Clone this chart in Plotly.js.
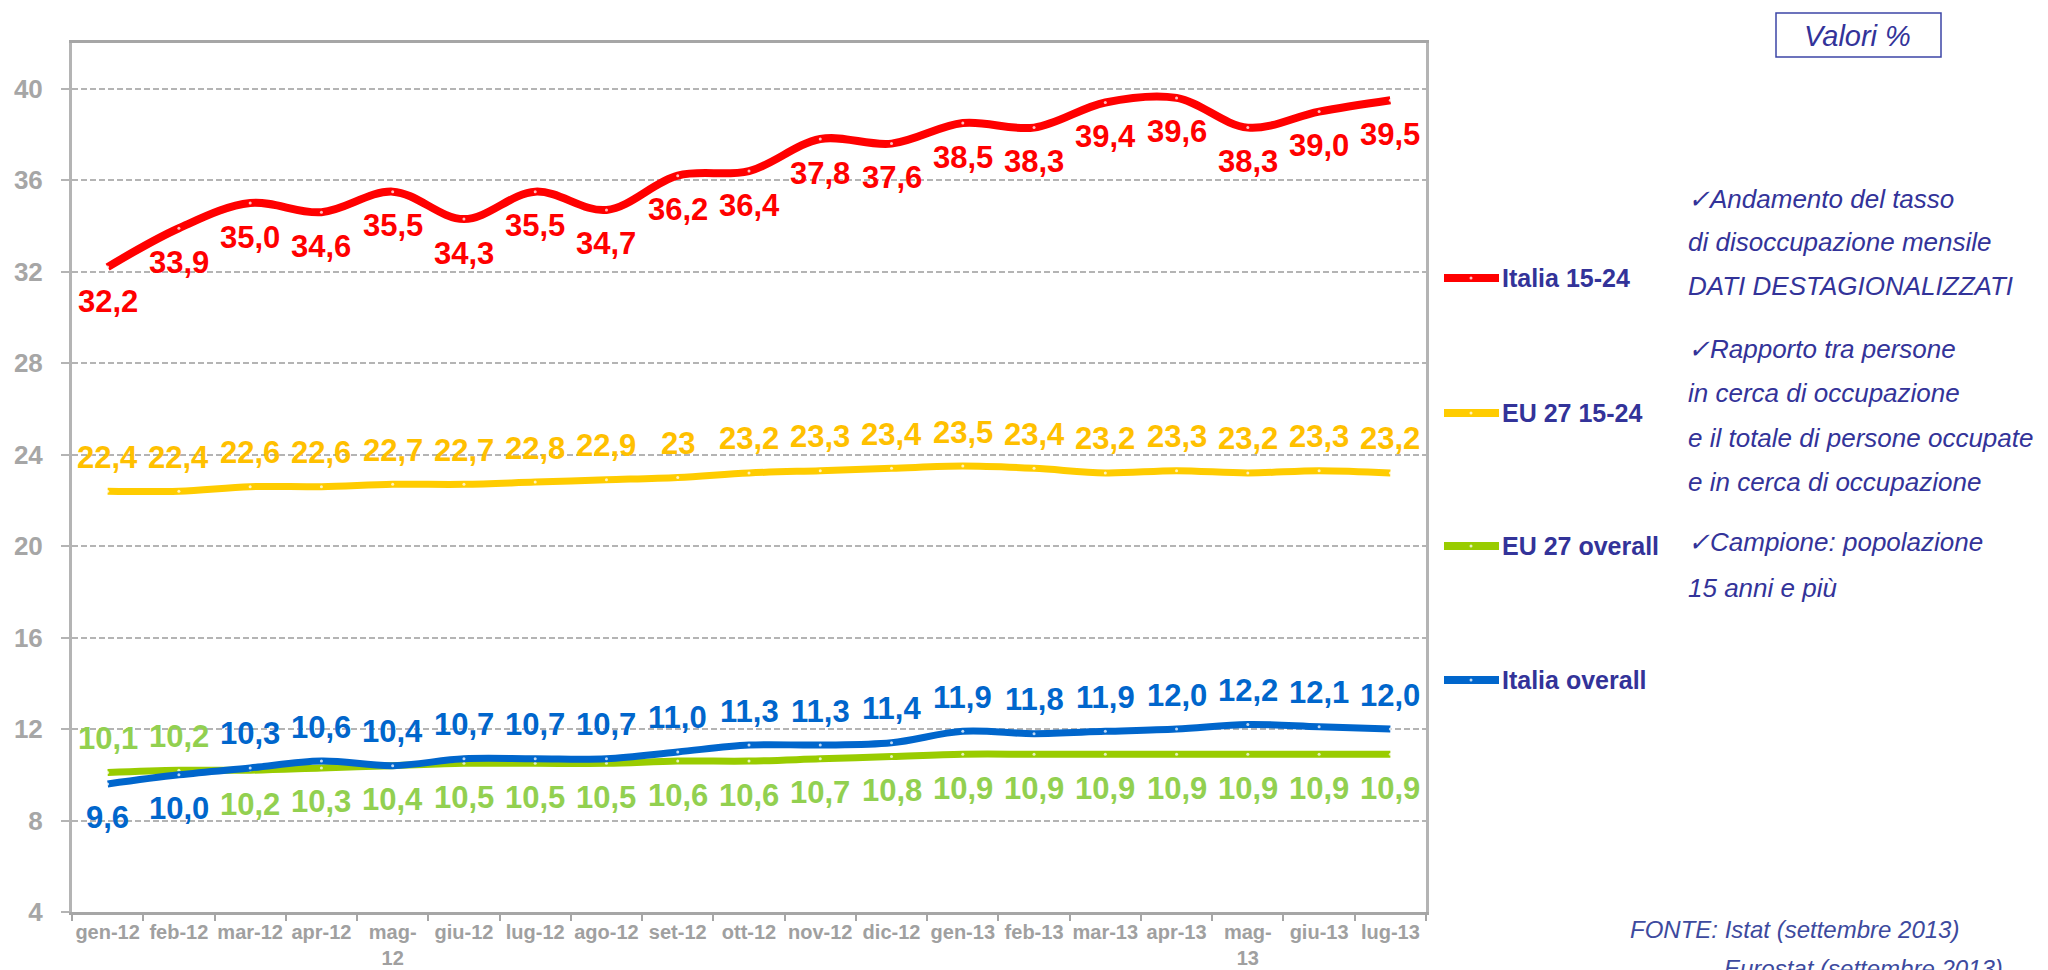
<!DOCTYPE html>
<html>
<head>
<meta charset="utf-8">
<script src="https://cdn.plot.ly/plotly-3.0.1.min.js"></script>
<style>
html,body{margin:0;padding:0;background:#fff;}
#chart{width:2048px;height:970px;}
</style>
</head>
<body>
<div id="chart"></div>
<script>
// ---------- DATA ----------
const categories = ["gen-12","feb-12","mar-12","apr-12","mag-12","giu-12","lug-12","ago-12","set-12","ott-12","nov-12","dic-12","gen-13","feb-13","mar-13","apr-13","mag-13","giu-13","lug-13"];
const tickLabels = ["gen-12","feb-12","mar-12","apr-12","mag-<br>12","giu-12","lug-12","ago-12","set-12","ott-12","nov-12","dic-12","gen-13","feb-13","mar-13","apr-13","mag-<br>13","giu-13","lug-13"];

const italia1524 = [32.2,33.9,35.0,34.6,35.5,34.3,35.5,34.7,36.2,36.4,37.8,37.6,38.5,38.3,39.4,39.6,38.3,39.0,39.5];
const eu1524     = [22.4,22.4,22.6,22.6,22.7,22.7,22.8,22.9,23.0,23.2,23.3,23.4,23.5,23.4,23.2,23.3,23.2,23.3,23.2];
const euOverall  = [10.1,10.2,10.2,10.3,10.4,10.5,10.5,10.5,10.6,10.6,10.7,10.8,10.9,10.9,10.9,10.9,10.9,10.9,10.9];
const italiaOverall = [9.6,10.0,10.3,10.6,10.4,10.7,10.7,10.7,11.0,11.3,11.3,11.4,11.9,11.8,11.9,12.0,12.2,12.1,12.0];

const eu1524Labels = ["22,4","22,4","22,6","22,6","22,7","22,7","22,8","22,9","23","23,2","23,3","23,4","23,5","23,4","23,2","23,3","23,2","23,3","23,2"];

// label side per point: 1 = above, -1 = below
const italia1524Side = Array(19).fill(-1);
const eu1524Side = Array(19).fill(1);
const euOverallSide = [1,1,-1,-1,-1,-1,-1,-1,-1,-1,-1,-1,-1,-1,-1,-1,-1,-1,-1];
const italiaOverallSide = [-1,-1,1,1,1,1,1,1,1,1,1,1,1,1,1,1,1,1,1];

const seriesNames = ["Italia 15-24","EU 27 15-24","EU 27 overall","Italia overall"];

// ---------- STYLE ----------
const FONT = "Liberation Sans, Arial, Helvetica, sans-serif";
const NAVY = "#333399";
const fmt = v => v.toFixed(1).replace(".", ",");

const series = [
  {name: seriesNames[0], y: italia1524, lineColor: "#FF0000", labelColor: "#FF0000", width: 8, labels: italia1524.map(fmt), side: italia1524Side, legendY: 278},
  {name: seriesNames[1], y: eu1524, lineColor: "#FFCC00", labelColor: "#FFC000", width: 7, labels: eu1524Labels, side: eu1524Side, legendY: 413},
  {name: seriesNames[2], y: euOverall, lineColor: "#99CC00", labelColor: "#92D050", width: 7, labels: euOverall.map(fmt), side: euOverallSide, legendY: 546},
  {name: seriesNames[3], y: italiaOverall, lineColor: "#0066CC", labelColor: "#0066CC", width: 7, labels: italiaOverall.map(fmt), side: italiaOverallSide, legendY: 680}
];

const traces = series.map(s => ({
  type: "scatter",
  mode: "lines+markers",
  x: categories,
  y: s.y,
  name: s.name,
  showlegend: false,
  line: {color: s.lineColor, width: s.width, shape: "spline", smoothing: 1},
  marker: {size: 3, color: "rgba(255,255,255,0.75)", line: {width: 0}},
  hoverinfo: "x+y+name"
}));

const annotations = [];
series.forEach(s => {
  s.y.forEach((v, i) => {
    annotations.push({
      x: categories[i], y: v, xref: "x", yref: "y",
      text: "<b>" + s.labels[i] + "</b>",
      showarrow: false,
      yshift: 34 * s.side[i],
      font: {family: FONT, size: 31, color: s.labelColor}
    });
  });
});

// layout geometry helpers (paper coords)
const L = 72, R = 622, T = 43, B = 58, W = 2048, H = 970;
const pw = W - L - R, ph = H - T - B;
const px = x => (x - L) / pw;
const py = y => (H - B - y) / ph;

const shapes = [];

// legend (line sample + label) on the right of the plot
series.forEach(s => {
  shapes.push({
    type: "line", xref: "paper", yref: "paper",
    x0: px(1444), x1: px(1499), y0: py(s.legendY), y1: py(s.legendY),
    line: {color: s.lineColor, width: 8}
  });
  shapes.push({
    type: "circle", xref: "paper", yref: "paper",
    x0: px(1469.5), x1: px(1472.5), y0: py(s.legendY + 1.5), y1: py(s.legendY - 1.5),
    line: {width: 0}, fillcolor: "rgba(255,255,255,0.75)"
  });
  annotations.push({
    xref: "paper", yref: "paper", x: px(1500), y: py(s.legendY),
    xanchor: "left", yanchor: "middle", showarrow: false,
    text: "<b>" + s.name + "</b>",
    font: {family: FONT, size: 25, color: NAVY}
  });
});

const sideText = [
  {t: "✓Andamento del tasso", y: 199},
  {t: "di disoccupazione mensile", y: 242},
  {t: "DATI DESTAGIONALIZZATI", y: 286},
  {t: "✓Rapporto tra persone", y: 349},
  {t: "in cerca di occupazione", y: 393},
  {t: "e il totale di persone occupate", y: 438},
  {t: "e in cerca di occupazione", y: 482},
  {t: "✓Campione: popolazione", y: 542},
  {t: "15 anni e più", y: 588}
];
sideText.forEach(o => annotations.push({
  xref: "paper", yref: "paper", x: px(1686), y: py(o.y),
  xanchor: "left", yanchor: "middle", showarrow: false,
  text: "<i>" + o.t + "</i>",
  font: {family: FONT, size: 26, color: NAVY}
}));

annotations.push({
  xref: "paper", yref: "paper", x: px(1858), y: py(36),
  xanchor: "center", yanchor: "middle", showarrow: false,
  text: "<i>Valori %</i>", font: {family: FONT, size: 29, color: NAVY}
});
annotations.push({
  xref: "paper", yref: "paper", x: px(1628), y: py(929),
  xanchor: "left", yanchor: "middle", showarrow: false,
  text: "<i>FONTE: Istat (settembre 2013)</i>", font: {family: FONT, size: 24, color: "#3D4A9E"}
});
annotations.push({
  xref: "paper", yref: "paper", x: px(1722), y: py(968),
  xanchor: "left", yanchor: "middle", showarrow: false,
  text: "<i>Eurostat (settembre 2013)</i>", font: {family: FONT, size: 24, color: "#3D4A9E"}
});

shapes.push({
  type: "rect", xref: "paper", yref: "paper",
  x0: px(1776), x1: px(1941), y0: py(57), y1: py(13),
  line: {color: "#3C46A6", width: 1.5}, fillcolor: "rgba(0,0,0,0)"
});

const layout = {
  width: W, height: H,
  margin: {l: L, r: R, t: T, b: B, pad: 0},
  paper_bgcolor: "#ffffff",
  plot_bgcolor: "#ffffff",
  showlegend: false,
  xaxis: {
    type: "category",
    range: [-0.5, 18.5],
    tickmode: "array",
    tickvals: categories,
    ticktext: tickLabels,
    tickson: "boundaries",
    tickangle: 0,
    ticks: "outside", ticklen: 6, tickwidth: 2, tickcolor: "#A6A6A6",
    showline: true, linecolor: "#A6A6A6", linewidth: 3, mirror: true,
    showgrid: false, zeroline: false,
    tickfont: {family: FONT, size: 20, color: "#A0A0A0", weight: "bold"},
    fixedrange: true
  },
  yaxis: {
    range: [4, 42],
    tick0: 4, dtick: 4,
    ticks: "outside", ticklen: 8, tickwidth: 2, tickcolor: "#B4B4B4",
    ticklabelstandoff: 13,
    showline: true, linecolor: "#B4B4B4", linewidth: 3, mirror: true,
    showgrid: true, gridcolor: "#B4B4B4", gridwidth: 2, griddash: "6px,3px",
    zeroline: false,
    tickfont: {family: FONT, size: 26, color: "#A6A6A6", weight: "bold"},
    fixedrange: true
  },
  shapes: shapes,
  annotations: annotations
};

Plotly.newPlot("chart", traces, layout, {displayModeBar: false, staticPlot: true});
</script>
</body>
</html>
